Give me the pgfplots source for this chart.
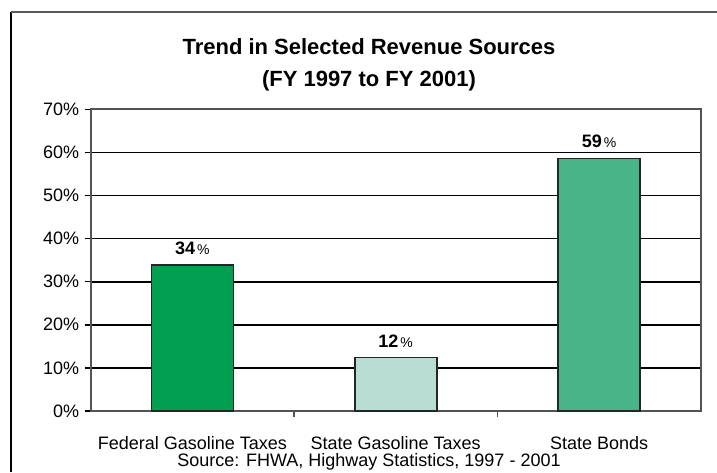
\documentclass[border=0pt]{standalone}
\usepackage{pgfplots}
\pgfplotsset{compat=1.18}
\usepackage{fontspec}
\setmainfont{Liberation Sans}

\definecolor{fedgreen}{RGB}{0,160,80}
\definecolor{stategas}{RGB}{184,221,210}
\definecolor{bonds}{RGB}{72,180,136}

\begin{document}
\begin{tikzpicture}
\useasboundingbox (0pt,0pt) rectangle (717pt,472pt);
\begin{axis}[
    at={(90.7pt,61pt)}, anchor=south west,
    scale only axis,
    width=610pt, height=301.7pt,
    ybar, bar width=82pt,
    xmin=-0.5, xmax=2.5,
    ymin=0, ymax=70,
    ytick={0,10,...,70},
    yticklabel={\pgfmathprintnumber{\tick}\%},
    /pgf/number format/assume math mode=true,
    ymajorgrids,
    grid style={black, line width=1.7pt},
    axis line style={gray!65!black, line width=2pt},
    xtick pos=bottom, ytick pos=left,
    xtick={0,1,2},
    xticklabels={Federal Gasoline Taxes, State Gasoline Taxes, State Bonds},
    xtick style={draw=none},
    extra x ticks={0.5,1.5},
    extra x tick labels={},
    extra x tick style={grid=none, xtick style={draw=gray!65!black, line width=1.4pt}},
    tick align=outside,
    major tick length=6pt,
    ytick style={draw=black, line width=1.5pt},
    tick label style={font=\fontsize{18}{18}\selectfont},
    xticklabel style={anchor=base, yshift=-32.5pt},
    yticklabel style={xshift=-2pt},
    point meta=explicit symbolic,
    nodes near coords={\textbf{\pgfplotspointmeta}\hspace{2pt}{\fontsize{14}{14}\selectfont\%}},
    nodes near coords style={font=\fontsize{18}{18}\selectfont, anchor=base, yshift=10.5pt, inner sep=0pt},
]
\addplot[fill=fedgreen, draw=black!85, line width=1.6pt, bar shift=0pt] coordinates {(0,33.9) [34]};
\addplot[fill=stategas, draw=black!85, line width=1.6pt, bar shift=0pt] coordinates {(1,12.4) [12]};
\addplot[fill=bonds, draw=black!85, line width=1.6pt, bar shift=0pt] coordinates {(2,58.6) [59]};
\end{axis}
\draw[black, line width=1.2pt] (11pt,0pt) -- (11pt,460pt);
\draw[gray!70!black, line width=2.2pt] (11pt,460pt) -- (717pt,460pt);
\node[anchor=base, font=\bfseries\fontsize{22}{22}\selectfont] at (369pt,417.5pt) {Trend in Selected Revenue Sources};
\node[anchor=base, font=\bfseries\fontsize{22}{22}\selectfont] at (369pt,385pt) {(FY 1997 to FY 2001)};
\node[anchor=base, font=\fontsize{18}{18}\selectfont] at (369pt,5.3pt) {Source: FHWA, Highway Statistics, 1997 - 2001};
\end{tikzpicture}
\end{document}
